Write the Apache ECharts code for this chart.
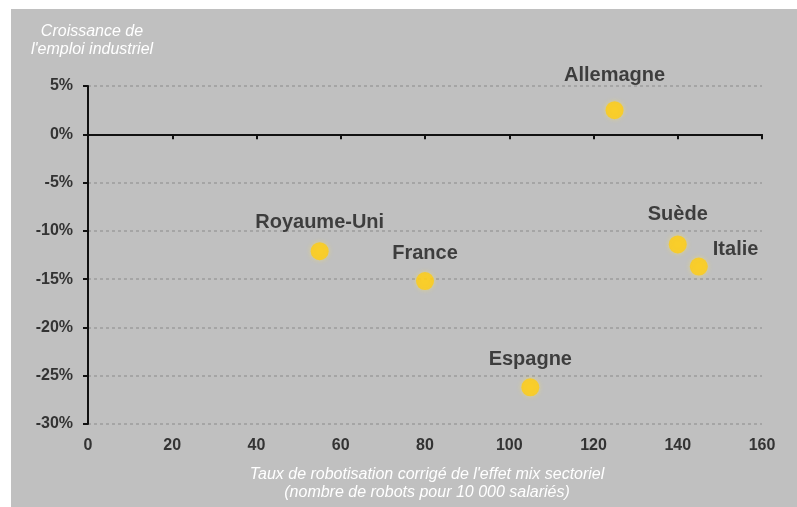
<!DOCTYPE html>
<html>
<head>
<meta charset="utf-8">
<script src="https://cdn.jsdelivr.net/npm/echarts@6/dist/echarts.min.js"></script>
<style>
  html, body { margin: 0; padding: 0; background: #ffffff; }
  #panel {
    position: absolute;
    left: 11px;
    top: 9px;
    width: 786px;
    height: 498px;
    background: #c0c0c0;
  }
  #chart { position: absolute; left: 0; top: 0; width: 797px; height: 507px; }
</style>
</head>
<body>
<div id="panel"></div>
<div id="chart"></div>
<script>
// pays
const countries = ["Allemagne", "Suède", "Italie", "Royaume-Uni", "France", "Espagne"];
// taux de robotisation (robots pour 10 000 salariés)
const robotRate = [125, 140, 145, 55, 80, 105];
// croissance de l'emploi industriel (%)
const employmentGrowth = [2.5, -11.4, -13.7, -12.1, -15.2, -26.2];
// axes
const xTicks = [0, 20, 40, 60, 80, 100, 120, 140, 160];
const yTicks = [-30, -25, -20, -15, -10, -5, 0, 5];

// placement des étiquettes
const labelStyles = {
  "Allemagne": { position: "top", distance: 16 },
  "Suède": { position: "top", distance: 11 },
  "Italie": { position: "right", distance: 5, offset: [0, -17] },
  "Royaume-Uni": { position: "top", distance: 10 },
  "France": { position: "top", distance: 9 },
  "Espagne": { position: "top", distance: 9 },
};

const points = countries.map((name, i) => ({
  name: name,
  value: [robotRate[i], employmentGrowth[i]],
  label: labelStyles[name],
}));

const chart = echarts.init(document.getElementById("chart"));
const axisFont = {
  color: "#333333",
  fontSize: 16,
  fontWeight: "bold",
  fontFamily: "Liberation Sans, Arial, sans-serif",
};

chart.setOption({
  animation: false,
  backgroundColor: "transparent",
  grid: { left: 88, right: 35, top: 86, bottom: 83 },
  xAxis: [
    {
      type: "value",
      min: xTicks[0],
      max: xTicks[xTicks.length - 1],
      interval: 20,
      axisLine: { onZero: true, lineStyle: { color: "#111", width: 2 } },
      axisTick: { show: true, length: 5, lineStyle: { color: "#111", width: 2 } },
      axisLabel: { show: false },
      splitLine: { show: false },
    },
    {
      type: "value",
      position: "bottom",
      min: xTicks[0],
      max: xTicks[xTicks.length - 1],
      interval: 20,
      axisLine: { show: false, onZero: false },
      axisTick: { show: false },
      axisLabel: Object.assign({ margin: 14 }, axisFont),
      splitLine: { show: false },
    },
  ],
  yAxis: {
    type: "value",
    min: yTicks[0],
    max: yTicks[yTicks.length - 1],
    interval: 5,
    axisLine: { show: true, onZero: false, lineStyle: { color: "#111", width: 2 } },
    axisTick: { show: true, length: 5, lineStyle: { color: "#111", width: 2 } },
    axisLabel: Object.assign({ margin: 15, formatter: "{value}%" }, axisFont),
    splitLine: { show: true, lineStyle: { color: "#9c9c9c", type: [3, 3], width: 1.5 } },
  },
  graphic: [
    {
      type: "text",
      x: 92,
      y: 23,
      style: {
        text: "Croissance de\nl'emploi industriel",
        align: "center",
        fill: "#ffffff",
        font: "italic 16px Liberation Sans, Arial, sans-serif",
        lineHeight: 18,
      },
    },
    {
      type: "text",
      x: 427,
      y: 466,
      style: {
        text: "Taux de robotisation corrigé de l'effet mix sectoriel\n(nombre de robots pour 10 000 salariés)",
        align: "center",
        fill: "#ffffff",
        font: "italic 16px Liberation Sans, Arial, sans-serif",
        lineHeight: 18,
      },
    },
  ],
  series: [
    {
      type: "scatter",
      xAxisIndex: 0,
      data: points,
      symbolSize: 18,
      itemStyle: {
        color: "#ffcc12",
        shadowBlur: 5,
        shadowColor: "rgba(255, 230, 80, 0.6)",
      },
      label: {
        show: true,
        formatter: "{b}",
        color: "#1c1c1c",
        fontSize: 20,
        fontWeight: "bold",
        fontFamily: "Liberation Sans, Arial, sans-serif",
      },
    },
  ],
});
</script>
</body>
</html>
